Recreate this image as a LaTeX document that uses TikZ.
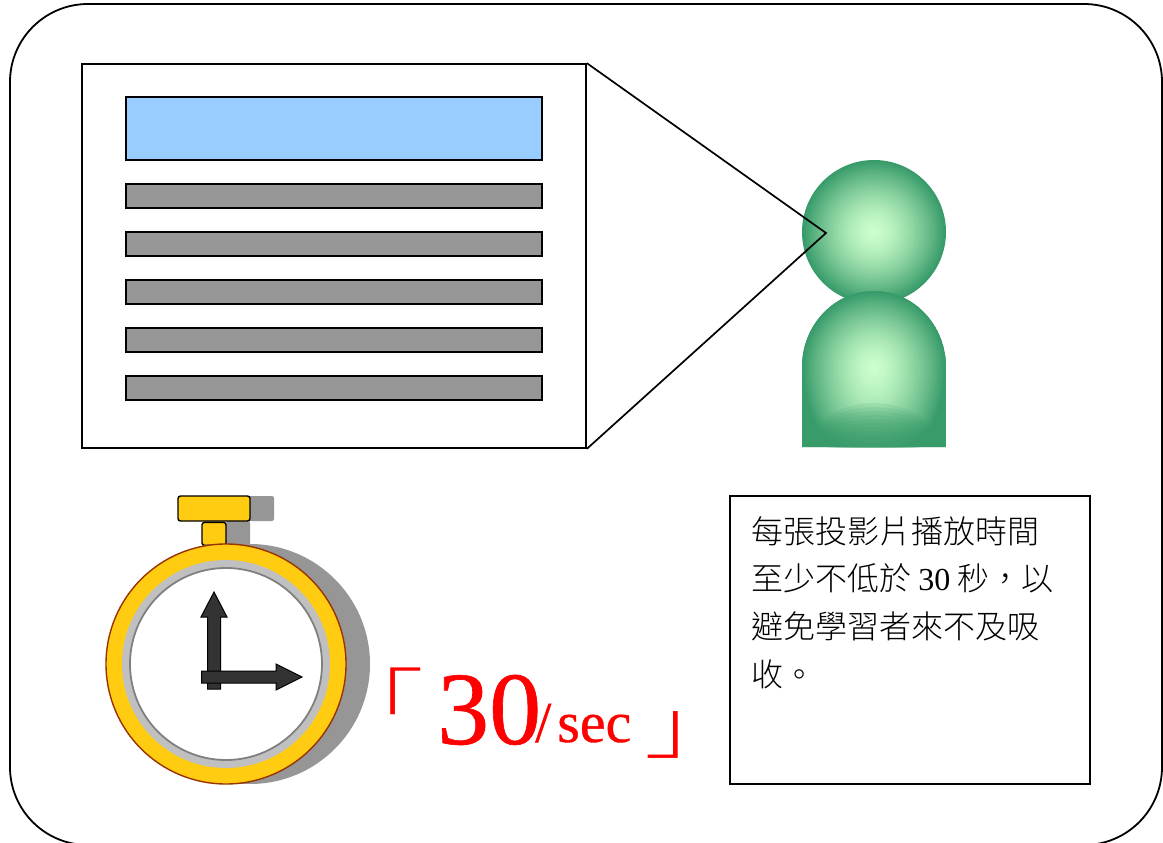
\documentclass[tikz,border=0pt]{standalone}
\usepackage{fontspec}
\setmainfont{Liberation Serif}
\newfontfamily\cjk{Noto Sans CJK TC Light}
\newfontfamily\redserif[FakeBold=0.6]{Liberation Serif}
\usepackage{tikz}
\usetikzlibrary{positioning}
\definecolor{skyfill}{RGB}{153,204,255}
\definecolor{barfill}{RGB}{150,150,150}
\definecolor{manedge}{RGB}{56,155,106}
\definecolor{manglow}{RGB}{204,255,204}
\definecolor{goldfill}{RGB}{255,204,17}
\definecolor{rimedge}{RGB}{153,51,0}
\definecolor{dialring}{RGB}{192,192,192}
\definecolor{handfill}{RGB}{51,51,51}
\begin{document}
\begin{tikzpicture}[
                x=1pt, y=-1pt,
                panel/.style={draw, line width=1.7pt, fill=white, inner sep=0pt},
                titlebar/.style={draw, line width=1.4pt, fill=skyfill, inner sep=0pt, minimum width=416pt, minimum height=63pt},
                textbar/.style={draw, line width=1.4pt, fill=barfill, inner sep=0pt, minimum width=416pt, minimum height=24pt},
                shadow/.style={fill=barfill, rounded corners=2pt},
                crown/.style={draw, line width=1.4pt, fill=goldfill, rounded corners=2.5pt},
                hand/.style={draw, line width=1pt, fill=handfill},
                redtext/.style={text=red, inner sep=0pt, anchor=base}
            ]
            \useasboundingbox (0,0) rectangle (1163,843);

            % outer frame
            \draw[line width=1.8pt, rounded corners=78pt] (10,4) rectangle (1162,845);

            % slide
            \node[panel, minimum width=504pt, minimum height=384pt] (slide) at (334,256) {};
            \node[titlebar] (title) at (334,128.5) {};
            \foreach \y/\name in {196/one, 244/two, 292/three, 340/four, 388/five}
                \node[textbar] (bar\name) at (334,\y) {};

            % person, nested outlines for the gradient
            \foreach \s in {1.00,0.97,...,0.00} {
                \pgfmathsetmacro{\pct}{100*(1-\s*sqrt(\s))}
                \fill[manglow!\pct!manedge] (874,232) circle ({72*\s});
            }
            \begin{scope}
                \clip (802,447) -- (802,367) arc[start angle=180, end angle=360, x radius=72, y radius=76] -- (946,447) -- cycle;
                \fill[manedge] (802,291) rectangle (946,447);
                \foreach \s in {1.00,0.97,...,0.00} {
                    \pgfmathsetmacro{\pct}{100*(1-\s*sqrt(\s))}
                    \fill[manglow!\pct!manedge] ({874-72*\s},367)
                        arc[start angle=180, end angle=360, x radius={72*\s}, y radius={76*\s}]
                        arc[start angle=0, end angle=180, x radius={72*\s}, y radius={105*\s}];
                }
                % darker lens along the foot
                \foreach \h in {4,8,...,44} {
                    \fill[manedge, opacity=0.14] (802,447) .. controls (826,{447-1.33*\h}) and (922,{447-1.33*\h}) .. (946,447) -- cycle;
                }
            \end{scope}

            % sight lines
            \coordinate (eye) at (826,233);
            \draw[line width=1.7pt] (slide.north east) -- (eye) -- (slide.south east);

            % stopwatch
            \fill[shadow] (202,496) rectangle (274,521);
            \fill[shadow] (226,521) rectangle (250,546);
            \fill[barfill] (250,664) circle (120);
            \node[crown, inner sep=0pt, minimum width=72pt, minimum height=25pt] (crowntop) at (214,508.5) {};
            \node[crown, inner sep=0pt, minimum width=24pt, minimum height=23pt, below=0pt of crowntop] (crownstem) {};
            \node[circle, draw=rimedge, line width=1.4pt, fill=goldfill, inner sep=0pt, minimum size=240pt] (rim) at (226,664) {};
            \node[circle, fill=dialring, inner sep=0pt, minimum size=208pt] (ring) at (rim) {};
            \node[circle, draw=gray, line width=1.8pt, fill=white, inner sep=0pt, minimum size=192pt] (dial) at (rim) {};
            \draw[hand] (207.5,689) -- (207.5,617) -- (201,617) -- (214,592) -- (227,617) -- (220.5,617) -- (220.5,689) -- cycle;
            \draw[hand] (201.5,671) -- (276,671) -- (276,664) -- (302,677) -- (276,690) -- (276,683) -- (201.5,683) -- cycle;

            % duration
            \node[redtext, font=\fontsize{72}{72}\selectfont\cjk] (openmark) at (375.5,728) {\scalebox{1.36}[1]{「}};
            \node[redtext, font=\fontsize{104}{104}\selectfont\redserif, anchor=base west] (thirty) at (437,744) {30};
            \node[redtext, font=\fontsize{58}{58}\selectfont\redserif, anchor=base west] (unit) at (535,742) {/\kern6pt sec};
            \node[redtext, font=\fontsize{72}{72}\selectfont\cjk] (closemark) at (693,752) {\scalebox{1.36}[1]{」}};

            % note
            \node[panel, minimum width=360pt, minimum height=288pt] (notebox) at (910,640) {};
            \node[anchor=north west, inner sep=0pt, align=left, font=\fontsize{32}{47.7}\selectfont\cjk] (note) at (751,516)
                {每張投影片播放時間\\至少不低於 {\rmfamily 30} 秒，以\\避免學習者來不及吸\\收。};
        \end{tikzpicture}
\end{document}
